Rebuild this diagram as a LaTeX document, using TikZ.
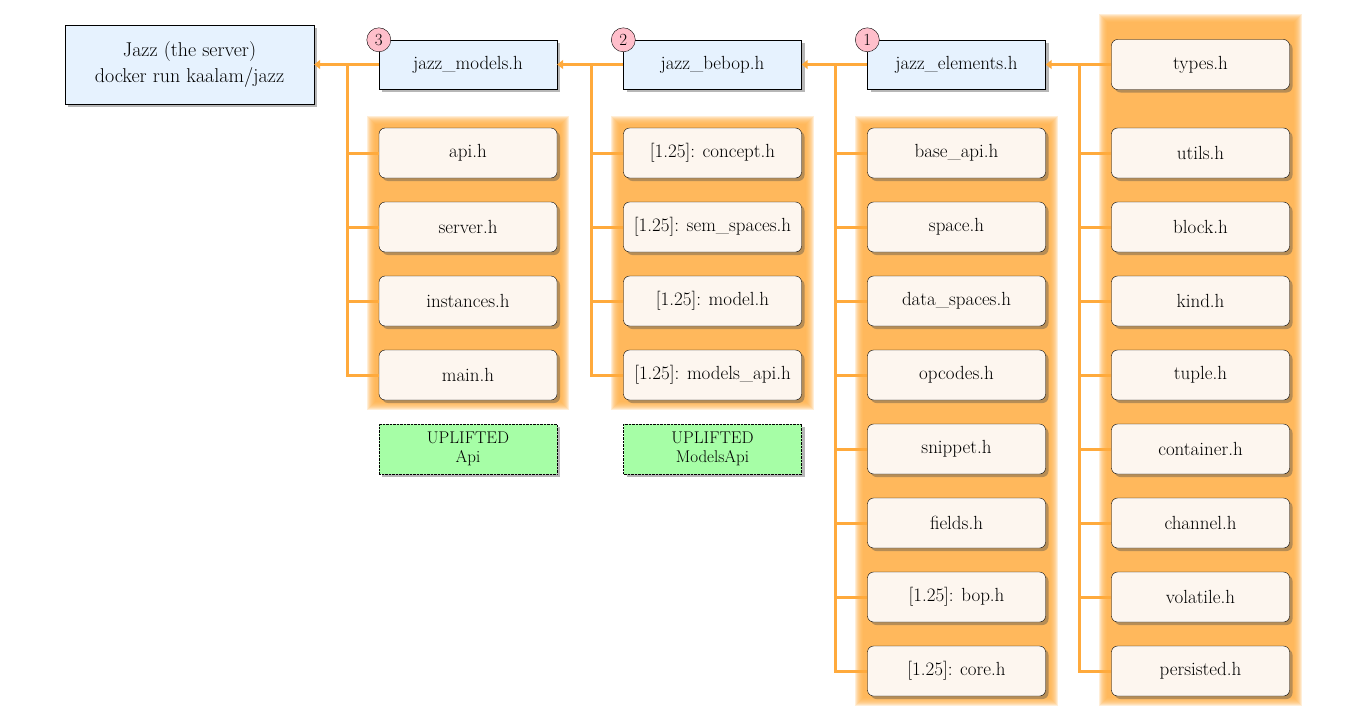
\documentclass[tikz,border=0pt]{standalone}
\usepackage{fontspec}
\setmainfont{Latin Modern Roman}
\usetikzlibrary{shadows,arrows.meta}
\definecolor{hdrblue}{HTML}{E6F2FE}
\definecolor{cream}{HTML}{FDF6EF}
\definecolor{uplgreen}{HTML}{A6FEA6}
\definecolor{numpink}{HTML}{FFBFCB}
\definecolor{linkor}{HTML}{FFAA3C}
\definecolor{glowor}{HTML}{FFB049}
\newcommand{\glowbox}[4]{%
  \foreach \d in {0,1,...,8}
    \fill[glowor,opacity=0.22] (#1+\d,#2+\d) rectangle (#3-\d,#4-\d);}
\begin{document}
\begin{tikzpicture}[x=1pt,y=-1pt,
  every node/.style={font=\fontsize{19}{23}\selectfont},
  shad/.style={drop shadow={shadow xshift=3pt,shadow yshift=-3pt,opacity=0.4,fill=black!70}},
  hdr/.style={draw,fill=hdrblue,minimum width=178pt,minimum height=49pt,shad},
  file/.style={draw,fill=cream,rounded corners=6pt,minimum width=178pt,minimum height=50pt,inner xsep=2pt,shad},
  upl/.style={draw,densely dotted,fill=uplgreen,minimum width=178pt,minimum height=50pt,align=center,
    font=\fontsize{17}{19}\selectfont,shad},
  num/.style={circle,draw,thin,fill=numpink,inner sep=0pt,minimum size=24pt,font=\fontsize{17}{17}\selectfont},
  link/.style={draw=linkor,line width=3pt},
  tolink/.style={link,-{Triangle[length=6pt,width=9pt]}}]
		\useasboundingbox (0,0) rectangle (1354,720);
		% orange backgrounds
		\glowbox{367}{116}{569}{410}
		\glowbox{611}{116}{814}{410}
		\glowbox{855}{116}{1058}{706}
		\glowbox{1099}{14}{1302}{706}
		% headers
		\node[hdr,minimum width=249pt,minimum height=79pt,align=center,font=\fontsize{20}{26}\selectfont] (jazz) at (189.5,64.5) {Jazz (the server)\\docker run kaalam/jazz};
		\node[hdr] (models) at (468,64.5) {jazz\_models.h};
		\node[hdr] (bebop) at (712.5,64.5) {jazz\_bebop.h};
		\node[hdr] (elements) at (956.5,64.5) {jazz\_elements.h};
		\node[num] (n3) at (models.north west) {3};
		\node[num] (n2) at (bebop.north west) {2};
		\node[num] (n1) at (elements.north west) {1};
		% jazz_models
		\node[file] (api) at (468,153) {api.h};
		\node[file] (server) at (468,227) {server.h};
		\node[file] (instances) at (468,301) {instances.h};
		\node[file] (main) at (468,375) {main.h};
		\node[upl] (uplapi) at (468,449) {UPLIFTED\\Api};
		% jazz_bebop
		\node[file] (concept) at (712.5,153) {[1.25]: concept.h};
		\node[file] (semspaces) at (712.5,227) {[1.25]: sem\_spaces.h};
		\node[file] (model) at (712.5,301) {[1.25]: model.h};
		\node[file] (modelsapi) at (712.5,375) {[1.25]: models\_api.h};
		\node[upl] (uplmodels) at (712.5,449) {UPLIFTED\\ModelsApi};
		% jazz_elements
		\node[file] (baseapi) at (956.5,153) {base\_api.h};
		\node[file] (space) at (956.5,227) {space.h};
		\node[file] (dataspaces) at (956.5,301) {data\_spaces.h};
		\node[file] (opcodes) at (956.5,375) {opcodes.h};
		\node[file] (snippet) at (956.5,449) {snippet.h};
		\node[file] (fields) at (956.5,523) {fields.h};
		\node[file] (bop) at (956.5,597) {[1.25]: bop.h};
		\node[file] (core) at (956.5,671) {[1.25]: core.h};
		% base files
		\node[file] (types) at (1200.5,64.5) {types.h};
		\node[file] (utils) at (1200.5,153) {utils.h};
		\node[file] (block) at (1200.5,227) {block.h};
		\node[file] (kind) at (1200.5,301) {kind.h};
		\node[file] (tuple) at (1200.5,375) {tuple.h};
		\node[file] (container) at (1200.5,449) {container.h};
		\node[file] (channel) at (1200.5,523) {channel.h};
		\node[file] (volatile) at (1200.5,597) {volatile.h};
		\node[file] (persisted) at (1200.5,671) {persisted.h};
		% buses
		\coordinate (b3) at (347,64.5);
		\coordinate (b2) at (591,64.5);
		\coordinate (b1) at (835,64.5);
		\coordinate (b0) at (1079,64.5);
		\draw[tolink] (models.west) -- (jazz.east);
		\draw[link] (b3) |- (main.west);
		\draw[link] (b3 |- api.west) -- (api.west);
		\draw[link] (b3 |- server.west) -- (server.west);
		\draw[link] (b3 |- instances.west) -- (instances.west);
		\draw[tolink] (bebop.west) -- (models.east);
		\draw[link] (b2) |- (modelsapi.west);
		\draw[link] (b2 |- concept.west) -- (concept.west);
		\draw[link] (b2 |- semspaces.west) -- (semspaces.west);
		\draw[link] (b2 |- model.west) -- (model.west);
		\draw[tolink] (elements.west) -- (bebop.east);
		\draw[link] (b1) |- (core.west);
		\draw[link] (b1 |- baseapi.west) -- (baseapi.west);
		\draw[link] (b1 |- space.west) -- (space.west);
		\draw[link] (b1 |- dataspaces.west) -- (dataspaces.west);
		\draw[link] (b1 |- opcodes.west) -- (opcodes.west);
		\draw[link] (b1 |- snippet.west) -- (snippet.west);
		\draw[link] (b1 |- fields.west) -- (fields.west);
		\draw[link] (b1 |- bop.west) -- (bop.west);
		\draw[tolink] (types.west) -- (elements.east);
		\draw[link] (b0) |- (persisted.west);
		\draw[link] (b0 |- utils.west) -- (utils.west);
		\draw[link] (b0 |- block.west) -- (block.west);
		\draw[link] (b0 |- kind.west) -- (kind.west);
		\draw[link] (b0 |- tuple.west) -- (tuple.west);
		\draw[link] (b0 |- container.west) -- (container.west);
		\draw[link] (b0 |- channel.west) -- (channel.west);
		\draw[link] (b0 |- volatile.west) -- (volatile.west);
\end{tikzpicture}
\end{document}
